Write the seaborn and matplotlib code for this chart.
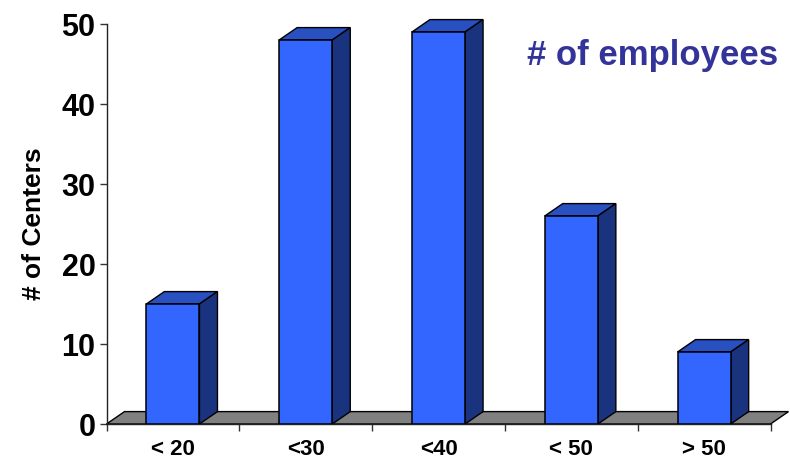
import numpy as np
import pandas as pd
import matplotlib
matplotlib.use('Agg')
import matplotlib.pyplot as plt
from matplotlib.patches import Polygon
import seaborn as sns

categories = ['< 20', '<30', '<40', '< 50', '> 50']
centers = [15, 48, 49, 26, 9]
y_ticks = [0, 10, 20, 30, 40, 50]

sns.set_style('white')
plt.rcParams['font.family'] = ['Liberation Sans', 'DejaVu Sans']
plt.rcParams['font.weight'] = 'bold'

df = pd.DataFrame({'size': categories, 'centers': centers})

fig = plt.figure(figsize=(7.9, 4.62), dpi=100)
ax = fig.add_axes([106.5 / 790, 38 / 462, 664 / 790, 400 / 462])

sns.barplot(data=df, x='size', y='centers', color='#3366ff', saturation=1,
            width=0.4, edgecolor='black', linewidth=1.1, ax=ax, zorder=3)
ax.set_xlim(-0.5, 4.5)
ax.set_ylim(0, 50)

# depth of the fake 3d, in data units (18px across, 12px up)
dx = 18 / 132.8
dy = 1.55

# grey floor
ax.add_patch(Polygon([(-0.5, 0), (-0.5 + dx, dy), (4.5 + dx, dy), (4.5, 0)], closed=True,
                     fc='#808080', ec='black', lw=1, zorder=1, clip_on=False))

# top and side of each bar
for bar in ax.patches[:5]:
    x0 = bar.get_x()
    x1 = x0 + bar.get_width()
    h = bar.get_height()
    ax.add_patch(Polygon([(x0, h), (x0 + dx, h + dy), (x1 + dx, h + dy), (x1, h)], closed=True,
                         fc='#2850c0', ec='black', lw=1, zorder=2, clip_on=False))
    ax.add_patch(Polygon([(x1, 0), (x1 + dx, dy), (x1 + dx, h + dy), (x1, h)], closed=True,
                         fc='#1a337f', ec='black', lw=1, zorder=2, clip_on=False))

ax.set_yticks(y_ticks)
ax.set_yticklabels(y_ticks, fontsize=22, fontweight='bold', color='black')
ax.set_xticks(np.arange(-0.5, 5, 1))
ax.set_xticklabels([])
ax.set_xticks(range(5), categories, minor=True, fontsize=16, fontweight='bold', color='black')
ax.tick_params(axis='x', which='major', bottom=True, length=5, width=1, color='#333333')
ax.tick_params(axis='x', which='minor', bottom=False, pad=9)
ax.tick_params(axis='y', left=True, length=5, width=1, color='#333333', pad=3)
ax.set_xlabel('')
ax.set_ylabel('')
fig.text(34 / 790, 1 - 224 / 462, '# of Centers', rotation=90, fontsize=19, color='black',
         fontweight='bold', ha='center', va='center')

sns.despine(ax=ax)
for s in ['left', 'bottom']:
    ax.spines[s].set_color('#222222')
    ax.spines[s].set_linewidth(1)

fig.text(778 / 790, 1 - 55 / 462, '# of employees', color='#333399', fontsize=25,
         fontweight='bold', ha='right', va='center')

fig.savefig('out.png', dpi=100)
